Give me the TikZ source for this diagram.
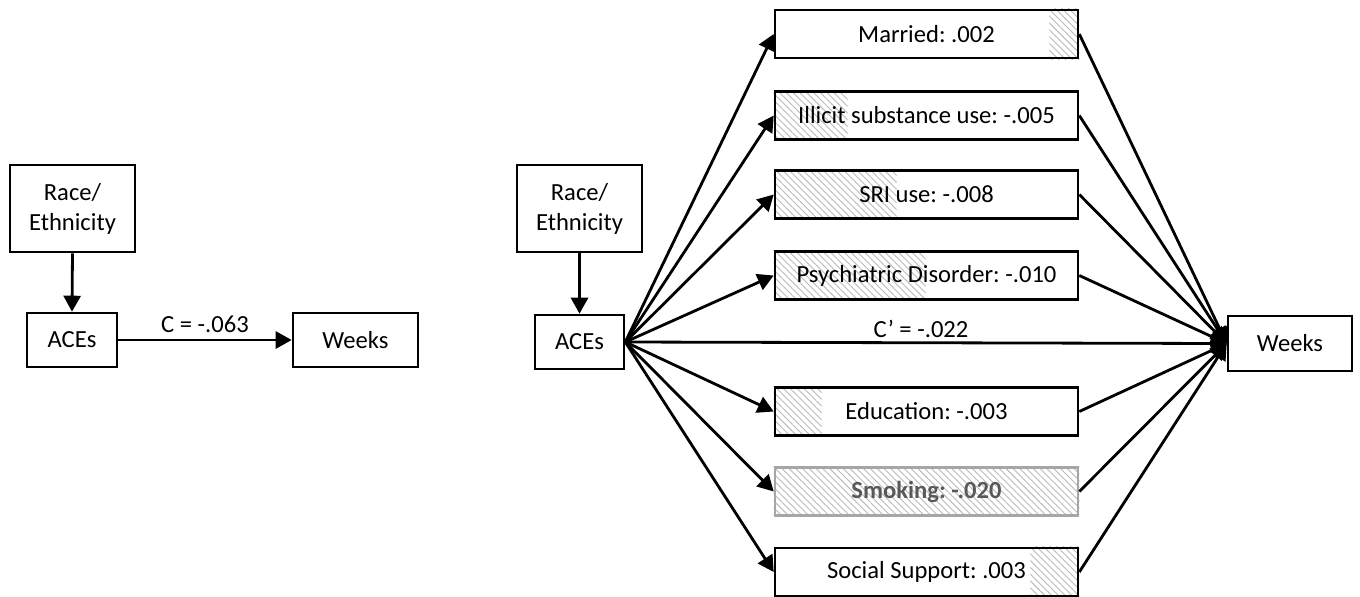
\documentclass[tikz,border=0pt]{standalone}
\usepackage{fontspec}
\setmainfont{Carlito}
\usetikzlibrary{arrows.meta,patterns.meta,backgrounds}
\begin{document}
\frenchspacing
\begin{tikzpicture}[x=0.5pt,y=-0.5pt,
  box/.style={draw,line width=1.3pt,inner sep=0pt,font=\fontsize{12.3}{15}\selectfont,align=center},
  medbox/.style={box,minimum width=151.5pt,minimum height=24pt},
  arr/.style={line width=1.4pt,-{Triangle[length=8pt,width=8.5pt]}},
  hatch/.style={pattern={Lines[angle=-45,distance=2.4pt,line width=0.45pt]},pattern color=gray!55},
  lbl/.style={font=\fontsize{12.3}{15}\selectfont,inner sep=0pt}]
\useasboundingbox (0,0) rectangle (1360,596);
% left panel
\node[box,minimum width=62.5pt,minimum height=43.5pt] (race1) at (72.5,208.5) {Race/\\Ethnicity};
\node[box,minimum width=45pt,minimum height=27pt] (aces1) at (72,340) {ACEs};
\node[box,minimum width=62.5pt,minimum height=27pt] (weeks1) at (355.5,340) {Weeks};
\draw[arr] (race1.south) -- (aces1.north);
\draw[arr] (aces1.east) -- node[lbl,above=3pt] {C = -.063} (weeks1.west);
% right panel
\node[box,minimum width=62.5pt,minimum height=43.5pt] (race2) at (579.5,208.5) {Race/\\Ethnicity};
\node[box,minimum width=44.5pt,minimum height=27pt] (aces2) at (579.5,342) {ACEs};
\node[box,minimum width=62pt,minimum height=27.5pt] (weeks2) at (1290,343.5) {Weeks};
\draw[arr] (race2.south) -- (aces2.north);
\node[medbox] (m1) at (926.5,34) {Married: .002};
\node[medbox] (m2) at (926.5,115.5) {Illicit substance use: -.005};
\node[medbox] (m3) at (926.5,194.5) {SRI use: -.008};
\node[medbox] (m4) at (926.5,275.5) {Psychiatric Disorder: -.010};
\node[medbox] (m5) at (926.5,411.5) {Education: -.003};
\node[medbox,draw=gray!70,text=gray!70!black,font=\fontsize{12.3}{15}\selectfont\bfseries] (m6) at (926.5,491.5) {Smoking: -.020};
\node[medbox] (m7) at (926.5,572) {Social Support: .003};
\begin{pgfonlayer}{background}
\fill[hatch] (m1.north east) rectangle ([xshift=-15pt]m1.south east);
\fill[hatch] (m2.north west) rectangle ([xshift=37pt]m2.south west);
\fill[hatch] (m3.north west) rectangle ([xshift=61.5pt]m3.south west);
\fill[hatch] (m4.north west) rectangle ([xshift=76pt]m4.south west);
\fill[hatch] (m5.north west) rectangle ([xshift=24pt]m5.south west);
\fill[hatch] (m6.north west) rectangle (m6.south east);
\fill[hatch] (m7.north east) rectangle ([xshift=-24.5pt]m7.south east);
\end{pgfonlayer}
\foreach \m in {m1,m2,m3,m4,m5,m6,m7}{
  \draw[arr] (aces2.east) -- (\m.west);
  \draw[arr] (\m.east) -- (weeks2.west);
}
\draw[arr] (aces2.east) -- (weeks2.west);
\node[lbl] (cp) at (921,329) {C’ = -.022};
\end{tikzpicture}
\end{document}
